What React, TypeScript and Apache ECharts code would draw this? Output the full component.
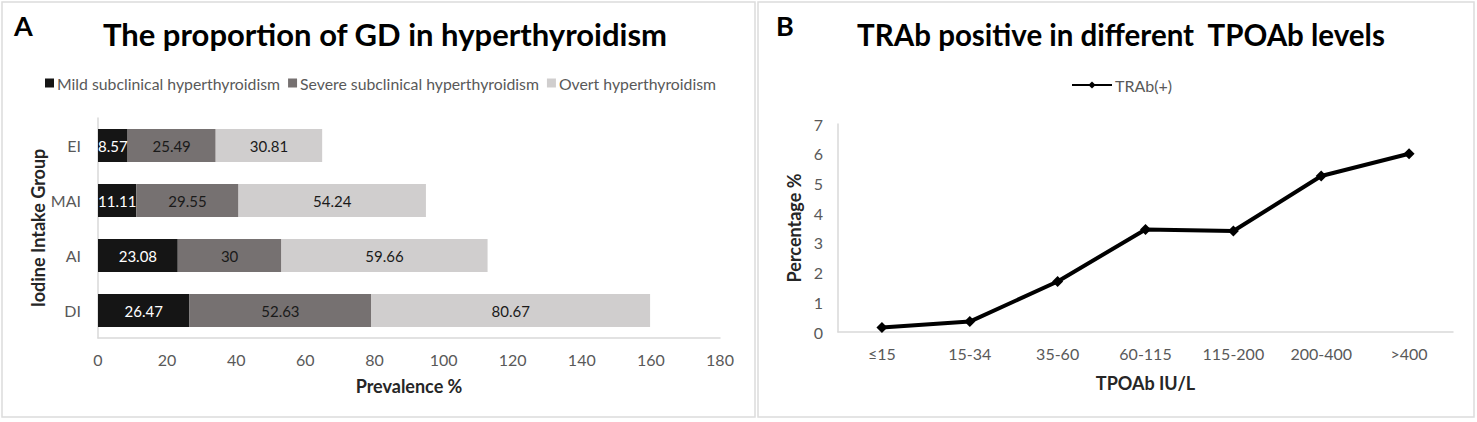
import React, { useEffect, useRef } from "react";
import * as echarts from "echarts";

const groups = ["DI", "AI", "MAI", "EI"];
const mildValues = [26.47, 23.08, 11.11, 8.57];
const severeValues = [52.63, 30, 29.55, 25.49];
const overtValues = [80.67, 59.66, 54.24, 30.81];
const prevalenceTicks = { min: 0, max: 180, interval: 20 };

const tpoLevels = ["≤15", "15-34", "35-60", "60-115", "115-200", "200-400", ">400"];
const trabPositive = [0.15, 0.35, 1.7, 3.45, 3.4, 5.25, 6.0];
const percentTicks = { min: 0, max: 7, interval: 1 };

const FONT = "Lato, 'Open Sans', 'Liberation Sans', sans-serif";
const GRAY_TEXT = "#595959";
const AXIS_LINE = "#d9d9d9";
const NAME_STYLE = { fontSize: 18, fontWeight: "bold", color: "#262626", fontFamily: FONT };

export default function App() {
  const ref = useRef<HTMLDivElement>(null);
  useEffect(() => {
    document.body.style.margin = "0";
    const chart = echarts.init(ref.current!, undefined, { renderer: "svg" });
    const labelBase = { show: true, position: "inside", fontSize: 15, fontFamily: FONT };
    chart.setOption({
      animation: false,
      backgroundColor: "#ffffff",
      textStyle: { fontFamily: FONT },
      title: [
        { text: "A", left: 9, top: 7, textStyle: { fontSize: 27, fontWeight: "bold", color: "#000", fontFamily: FONT } },
        { text: "B", left: 771, top: 7, textStyle: { fontSize: 27, fontWeight: "bold", color: "#000", fontFamily: FONT } },
        {
          text: "The proportion of GD in hyperthyroidism",
          left: 380, top: 13, textAlign: "center",
          textStyle: { fontSize: 31, fontWeight: "bold", color: "#000", fontFamily: FONT },
        },
        {
          text: "TRAb positive in different  TPOAb levels",
          left: 1116, top: 14, textAlign: "center",
          textStyle: { fontSize: 29.5, fontWeight: "bold", color: "#000", fontFamily: FONT },
        },
      ],
      legend: [
        {
          data: ["Mild subclinical hyperthyroidism", "Severe subclinical hyperthyroidism", "Overt hyperthyroidism"],
          left: 40, top: 70,
          icon: "rect", itemWidth: 9, itemHeight: 9, itemGap: 8,
          textStyle: { fontSize: 15.8, color: GRAY_TEXT, fontFamily: FONT, padding: [0, 0, 0, -2] },
        },
        {
          data: ["TRAb(+)"],
          left: 1066, top: 72,
          itemWidth: 40, itemHeight: 9,
          textStyle: { fontSize: 16, color: GRAY_TEXT, fontFamily: FONT, padding: [0, 0, 0, -2] },
        },
      ],
      graphic: [
        { type: "rect", shape: { x: 2, y: 2, width: 753, height: 415 }, style: { fill: "none", stroke: "#dcdcdc", lineWidth: 1.5 }, silent: true },
        { type: "rect", shape: { x: 758, y: 2, width: 716, height: 415 }, style: { fill: "none", stroke: "#dcdcdc", lineWidth: 1.5 }, silent: true },
      ],
      grid: [
        { left: 98, right: 1477 - 720, top: 118, bottom: 422 - 338, containLabel: false },
        { left: 838, right: 1477 - 1453, top: 124, bottom: 422 - 332, containLabel: false },
      ],
      xAxis: [
        {
          gridIndex: 0, type: "value", ...prevalenceTicks,
          axisLine: { show: true, lineStyle: { color: AXIS_LINE, width: 1.5 } },
          axisTick: { show: false }, splitLine: { show: false },
          axisLabel: { color: GRAY_TEXT, fontSize: 16, margin: 13, fontFamily: FONT },
          name: "Prevalence %", nameLocation: "middle", nameGap: 39,
          nameTextStyle: NAME_STYLE,
        },
        {
          gridIndex: 1, type: "category", data: tpoLevels, boundaryGap: true,
          axisLine: { show: true, lineStyle: { color: AXIS_LINE, width: 1.5 } },
          axisTick: { show: false },
          axisLabel: { color: GRAY_TEXT, fontSize: 16, margin: 13, fontFamily: FONT },
          name: "TPOAb IU/L", nameLocation: "middle", nameGap: 42,
          nameTextStyle: NAME_STYLE,
        },
      ],
      yAxis: [
        {
          gridIndex: 0, type: "category", data: groups,
          axisLine: { show: true, lineStyle: { color: AXIS_LINE, width: 1.5 } },
          axisTick: { show: false },
          axisLabel: { color: GRAY_TEXT, fontSize: 16, margin: 17, fontFamily: FONT },
          name: "Iodine Intake Group", nameLocation: "middle", nameGap: 51, nameRotate: 90,
          nameTextStyle: NAME_STYLE,
        },
        {
          gridIndex: 1, type: "value", ...percentTicks,
          axisLine: { show: true, lineStyle: { color: AXIS_LINE, width: 1.5 } },
          axisTick: { show: false }, splitLine: { show: false },
          axisLabel: { color: GRAY_TEXT, fontSize: 16, margin: 15, fontFamily: FONT },
          name: "Percentage %", nameLocation: "middle", nameGap: 35, nameRotate: 90,
          nameTextStyle: NAME_STYLE,
        },
      ],
      series: [
        {
          name: "Mild subclinical hyperthyroidism", type: "bar", stack: "total",
          xAxisIndex: 0, yAxisIndex: 0, data: mildValues, barCategoryGap: "40%",
          itemStyle: { color: "#151515" },
          label: { ...labelBase, color: "#ffffff" },
        },
        {
          name: "Severe subclinical hyperthyroidism", type: "bar", stack: "total",
          xAxisIndex: 0, yAxisIndex: 0, data: severeValues, barCategoryGap: "40%",
          itemStyle: { color: "#767171" },
          label: { ...labelBase, color: "#1a1a1a" },
        },
        {
          name: "Overt hyperthyroidism", type: "bar", stack: "total",
          xAxisIndex: 0, yAxisIndex: 0, data: overtValues, barCategoryGap: "40%",
          itemStyle: { color: "#d0cece" },
          label: { ...labelBase, color: "#1a1a1a" },
        },
        {
          name: "TRAb(+)", type: "line", xAxisIndex: 1, yAxisIndex: 1, data: trabPositive,
          symbol: "diamond", symbolSize: 11,
          lineStyle: { color: "#000", width: 4 },
          itemStyle: { color: "#000" },
        },
      ],
    });
    return () => chart.dispose();
  }, []);
  return <div ref={ref} style={{ position: "absolute", left: 0, top: 0, width: 1477, height: 422 }} />;
}
